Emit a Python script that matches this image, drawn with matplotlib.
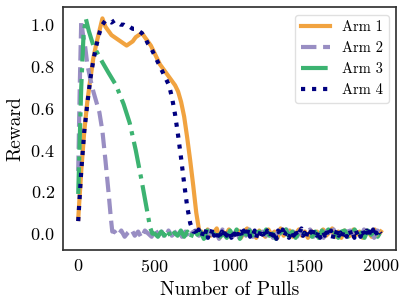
import numpy as np
import matplotlib
matplotlib.use("Agg")
import matplotlib.pyplot as plt

# Reward traces, as (pull, reward) key points
arm1_pulls = [0, 20, 40, 60, 80, 100, 120, 140, 160, 180, 200, 220, 240, 260, 280,
              300, 320, 340, 360, 380, 400, 420, 440, 460, 480, 500, 520, 540, 560,
              580, 600, 620, 640, 660, 680, 700, 720, 740, 760, 780, 800]
arm1_reward = [0.07, 0.30, 0.49, 0.63, 0.74, 0.84, 0.91, 0.97, 1.03, 0.99, 0.97, 0.95,
               0.94, 0.93, 0.92, 0.91, 0.90, 0.91, 0.92, 0.94, 0.95, 0.96, 0.94, 0.92,
               0.90, 0.87, 0.84, 0.81, 0.79, 0.77, 0.75, 0.73, 0.71, 0.68, 0.63, 0.56,
               0.46, 0.35, 0.23, 0.10, 0.01]

arm2_pulls = [0, 10, 20, 30, 45, 60, 80, 100, 120, 140, 160, 180, 200, 215, 225]
arm2_reward = [0.30, 0.70, 1.02, 0.96, 0.90, 0.81, 0.74, 0.68, 0.63, 0.58, 0.49,
               0.35, 0.20, 0.08, 0.01]

arm3_pulls = [0, 10, 20, 35, 50, 70, 100, 130, 160, 200, 250, 300, 340, 380, 420,
              450, 475, 490]
arm3_reward = [0.19, 0.45, 0.70, 0.95, 1.03, 0.97, 0.90, 0.86, 0.82, 0.77, 0.71,
               0.62, 0.53, 0.40, 0.25, 0.13, 0.03, 0.0]

arm4_pulls = [0, 20, 40, 60, 80, 100, 120, 140, 160, 180, 200, 220, 240, 260, 280,
              300, 320, 340, 360, 380, 400, 420, 440, 460, 480, 500, 520, 540, 560,
              580, 600, 620, 640, 660, 680, 700, 720, 740, 760]
arm4_reward = [0.06, 0.30, 0.49, 0.62, 0.74, 0.83, 0.90, 0.96, 1.00, 1.02, 1.02, 1.01,
               1.02, 1.01, 1.00, 1.00, 0.99, 0.99, 0.98, 0.98, 0.97, 0.96, 0.94, 0.91,
               0.89, 0.86, 0.83, 0.80, 0.77, 0.74, 0.71, 0.65, 0.57, 0.47, 0.36, 0.24,
               0.13, 0.05, 0.01]

# noisy flat tails once each arm is exhausted (evenly spaced up to pull 2000)
arm1_tail = [0.01, -0.015, 0.02, -0.01, 0.005, 0.025, -0.02, 0.01, -0.005, 0.02,
             -0.015, 0.0, 0.015, -0.02, 0.01, 0.025, -0.01, 0.005, -0.02, 0.015,
             0.0, -0.015, 0.02, -0.005, 0.01, -0.02, 0.025, -0.01, 0.005, 0.015,
             -0.015, 0.0, 0.02, -0.01, 0.01, -0.02, 0.015, -0.005, 0.01, -0.015,
             0.02, -0.01, 0.005, 0.025, -0.015, 0.01, -0.02, 0.015, 0.0, -0.01,
             0.02, -0.005, 0.01, -0.02, 0.015, 0.005, -0.015, 0.02, -0.01, 0.01]
arm2_tail = [0.01, -0.01, 0.015, -0.015, 0.005, 0.02, -0.01, 0.01, -0.02, 0.015,
             0.0, -0.015, 0.02, -0.005, 0.01, -0.02, 0.015, -0.01, 0.005, 0.02,
             -0.015, 0.01, -0.025, 0.005, 0.015, -0.01, 0.0, -0.02, 0.015, -0.005,
             0.01, -0.025, 0.02, -0.01, 0.005, -0.015, 0.015, -0.02, 0.01, -0.01,
             0.02, -0.015, 0.005, -0.02, 0.01, -0.01, 0.015, -0.02, 0.0, 0.01,
             -0.015, 0.02, -0.005, 0.01, -0.02, 0.015, -0.01, 0.005, 0.02, -0.015,
             0.0, 0.01, -0.02, 0.015, -0.005, 0.02, -0.01, 0.005, -0.025, 0.01,
             0.015, -0.01, 0.0, -0.015, 0.02, -0.005, 0.01, -0.02, 0.015, 0.0]
arm3_tail = [0.0, -0.015, 0.01, -0.01, 0.02, -0.02, 0.005, -0.01, 0.015, -0.015,
             0.01, -0.02, 0.02, -0.005, 0.01, -0.025, 0.015, -0.01, 0.005, 0.02,
             -0.015, 0.0, -0.02, 0.015, -0.01, 0.02, -0.025, 0.01, -0.005, 0.015,
             -0.02, 0.005, 0.01, -0.015, 0.02, -0.01, 0.0, -0.025, 0.015, -0.005,
             0.02, -0.015, 0.01, -0.02, 0.005, 0.015, -0.01, 0.0, -0.015, 0.01,
             -0.02, 0.015, -0.005, 0.02, -0.01, 0.005, -0.02, 0.01, 0.015, -0.015,
             0.0, 0.02, -0.01, 0.005, -0.02, 0.015, -0.005, 0.01, -0.015, 0.01]
arm4_tail = [0.01, -0.01, 0.02, 0.0, -0.015, 0.015, -0.005, 0.02, -0.02, 0.01,
             0.0, 0.025, -0.01, 0.005, -0.02, 0.015, -0.005, 0.01, -0.015, 0.02,
             -0.01, 0.0, 0.015, -0.02, 0.01, -0.005, 0.02, -0.015, 0.005, 0.01,
             -0.02, 0.015, 0.0, -0.01, 0.025, -0.015, 0.005, -0.005, 0.015, -0.02,
             0.01, -0.01, 0.02, -0.005, 0.0, -0.02, 0.015, 0.005, -0.015, 0.02,
             -0.01, 0.01, -0.025, 0.015, 0.0, -0.01, 0.02, -0.015, 0.005, 0.01,
             -0.02, 0.0, 0.015, -0.01, 0.02, -0.005, -0.015, 0.01, 0.025, -0.01,
             0.005, -0.02, 0.015, -0.005, 0.01, -0.015, 0.02, 0.0, -0.01, 0.015,
             -0.02, 0.005, 0.01, -0.01, 0.02, -0.015, 0.0, 0.015, -0.025, 0.01,
             -0.005, 0.02, -0.01, 0.005, -0.02, 0.015, 0.0, -0.015, 0.01, 0.02,
             -0.01, 0.005, -0.02, 0.015, -0.005, 0.01, -0.015, 0.02, 0.0, -0.01,
             0.015, -0.02, 0.01, -0.005, 0.02, -0.015, 0.005, -0.01, 0.01, 0.0]
tail_start = [815, 240, 505, 775]
last_pull = 2000

labels = ["Arm 1", "Arm 2", "Arm 3", "Arm 4"]
colors = ["#f1a340", "#998ec3", "mediumseagreen", "navy"]
styles = ["-", "--", "-.", ":"]

plt.rcParams["font.family"] = "cmr10"
plt.rcParams["mathtext.fontset"] = "cm"
plt.rcParams["axes.unicode_minus"] = False
plt.rcParams["axes.formatter.use_mathtext"] = True

fig = plt.figure(figsize=(4.07, 3.07), dpi=100)
ax = fig.add_axes([0.155, 0.186, 0.818, 0.79])

series = [
    (arm1_pulls, arm1_reward, arm1_tail),
    (arm2_pulls, arm2_reward, arm2_tail),
    (arm3_pulls, arm3_reward, arm3_tail),
    (arm4_pulls, arm4_reward, arm4_tail),
]
for (pulls, reward, tail), start, label, color, ls in zip(series, tail_start, labels, colors, styles):
    tail_x = np.linspace(start, last_pull, len(tail))
    x = np.concatenate([pulls, tail_x])
    y = np.concatenate([reward, tail])
    ax.plot(x, y, color=color, linestyle=ls, linewidth=3, label=label)

ax.set_xlabel("Number of Pulls", fontsize=14)
ax.set_ylabel("Reward", fontsize=14)
ax.tick_params(axis="both", labelsize=13, length=0, pad=6)
for spine in ax.spines.values():
    spine.set_color("0.2")
    spine.set_linewidth(1.25)

leg = ax.legend(loc="upper right", fontsize=10.5, frameon=True, fancybox=True)
leg.get_frame().set_edgecolor("0.85")

fig.savefig("out.png", dpi=100)
